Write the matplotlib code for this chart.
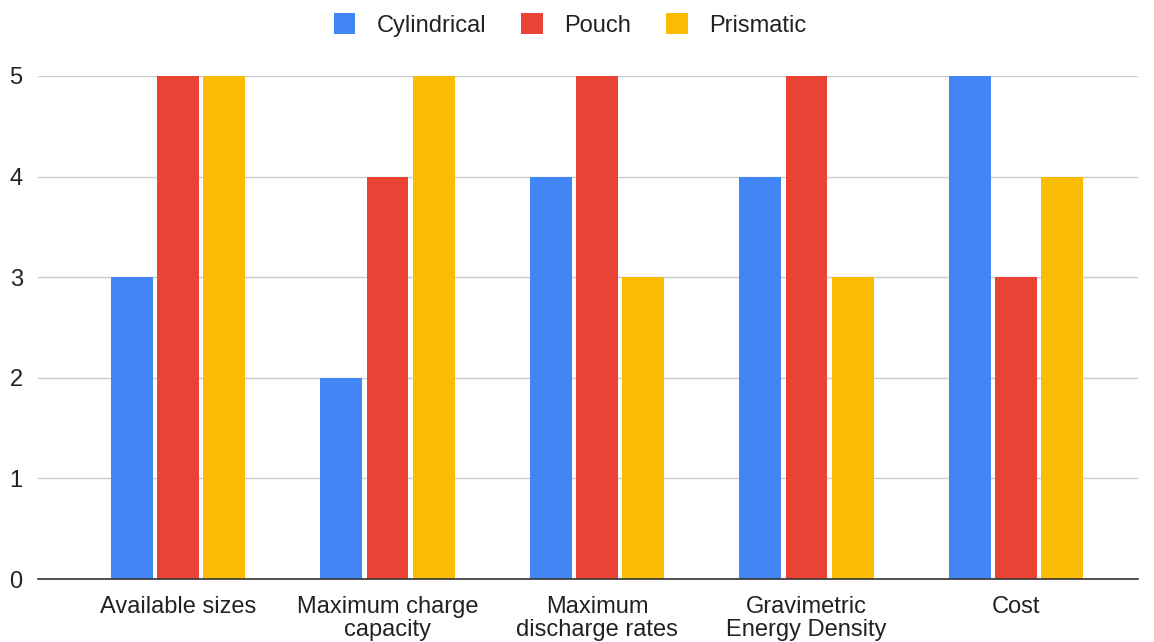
import numpy as np
import matplotlib.pyplot as plt

# Datos
categorias = ["Available sizes", "Maximum charge\ncapacity", "Maximum\ndischarge rates",
              "Gravimetric\nEnergy Density", "Cost"]
cylindrical = [3, 2, 4, 4, 5]
pouch = [5, 4, 5, 5, 3]
prismatic = [5, 5, 3, 3, 4]

series = ["Cylindrical", "Pouch", "Prismatic"]
colores = ["#4285F4", "#EA4335", "#FBBC04"]

plt.rcParams["font.family"] = ["Liberation Sans", "DejaVu Sans"]

fig = plt.figure(figsize=(11.54, 6.42), dpi=100)
ax = fig.add_axes([38 / 1154, 1 - 579 / 642, 1100 / 1154, 503 / 642])

x = np.arange(len(categorias))
ancho = 0.2
paso = 0.22
for k, (nombre, vals, c) in enumerate(zip(series, [cylindrical, pouch, prismatic], colores)):
    ax.bar(x + (k - 1) * paso, vals, width=ancho, color=c, label=nombre, zorder=3, clip_on=False)

ax.set_xlim(-0.668, 4.582)
ax.set_ylim(0, 5)
ax.set_yticks(range(6))
ax.set_xticks(x)
ax.set_xticklabels(categorias, fontsize=17, color="#222222", linespacing=1.05)
ax.tick_params(axis="both", length=0, labelsize=17, colors="#222222")
ax.tick_params(axis="x", pad=12)
ax.tick_params(axis="y", pad=11)

ax.grid(axis="y", color="#cccccc", linewidth=1, zorder=0)
for s in ["top", "right", "left"]:
    ax.spines[s].set_visible(False)
ax.spines["bottom"].set_color("#333333")
ax.spines["bottom"].set_linewidth(1.2)
ax.spines["bottom"].set_zorder(4)

ax.legend(loc="center", bbox_to_anchor=(532 / 1100, 1 + 51 / 503), ncol=3, frameon=False,
          fontsize=17, handlelength=0.9, handleheight=1.0, columnspacing=1.5, handletextpad=0.9,
          labelcolor="#222222")

fig.savefig("out.png", dpi=100)
